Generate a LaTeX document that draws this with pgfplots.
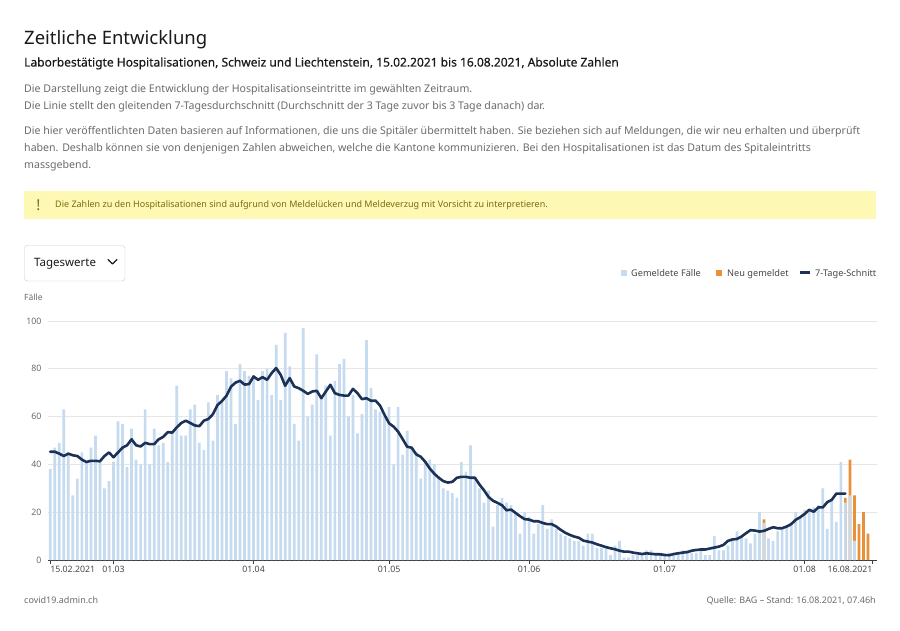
\documentclass[border=0pt]{standalone}
\usepackage{pgfplots}
\pgfplotsset{compat=1.18}
\usepackage{pgfplotstable}
\usepackage{fontspec}
\setmainfont{Noto Sans}
\definecolor{barblue}{HTML}{C6DBEF}
\definecolor{barorange}{HTML}{E8913A}
\definecolor{navy}{HTML}{1B3155}
\definecolor{txtgray}{HTML}{6B6B6B}
\definecolor{darktxt}{HTML}{1A1A1A}
\definecolor{yellowbg}{HTML}{FDF8B3}
\definecolor{yellowtxt}{HTML}{7A6A10}
\definecolor{gridgray}{HTML}{E6E6E6}

\pgfplotstableread{
d v
0 38
1 47
2 49
3 63
4 44
5 27
6 34
7 45
8 41
9 47
10 52
11 41
12 30
13 33
14 41
15 58
16 57
17 39
18 55
19 42
20 40
21 63
22 40
23 55
24 48
25 49
26 41
27 53
28 73
29 52
30 52
31 63
32 65
33 49
34 46
35 66
36 50
37 69
38 66
39 79
40 76
41 57
42 82
43 79
44 77
45 77
46 67
47 79
48 80
49 69
50 90
51 67
52 95
53 81
54 57
55 50
56 97
57 60
58 65
59 86
60 68
61 73
62 52
63 75
64 82
65 84
66 60
67 69
68 53
69 61
70 92
71 72
72 63
73 62
74 60
75 64
76 40
77 64
78 44
79 54
80 47
81 45
82 34
83 41
84 42
85 40
86 35
87 30
88 29
89 28
90 26
91 41
92 37
93 48
94 35
95 30
96 24
97 29
98 14
99 23
100 26
101 24
102 23
103 20
104 11
105 20
106 18
107 11
108 15
109 23
110 13
111 17
112 13
113 11
114 10
115 9
116 8
117 8
118 6
119 11
120 11
121 5
122 5
123 5
124 2
125 6
126 8
127 1
128 1
129 2
130 2
131 3
132 4
133 4
134 3
135 2
136 2
137 3
138 3
139 3
140 4
141 4
142 3
143 3
144 4
145 2
146 2
147 10
148 4
149 4
150 6
151 8
152 12
153 10
154 9
155 7
156 11
157 20
158 15.5
159 9
160 8
161 12
162 13
163 14
164 16
165 20
166 18
167 21
168 20
169 22
170 23
171 30
172 13
173 25
174 16
175 41
176 24
177 27
178 8
}\blue

\pgfplotstableread{
d v
158 17
176 26
177 42
178 27
179 15
180 20
181 11
}\orange

\pgfplotstableread{
d v
0 45.3
1 45.3
2 44.5
3 43.5
4 44.5
5 43.8
6 43.5
7 42
8 41
9 41.5
10 41.5
11 41.3
12 43.5
13 45
14 43
15 45
16 47
17 48
18 50.5
19 48
20 47.5
21 49
22 48.5
23 48.5
24 50.5
25 51.5
26 53.5
27 53.3
28 55.5
29 57.3
30 58.3
31 57.3
32 56.3
33 56
34 58.3
35 59
36 61
37 64.8
38 66.5
39 68.7
40 72.5
41 74.2
42 75
43 73.4
44 73.6
45 76.8
46 75.4
47 76.5
48 75.4
49 78.2
50 80.3
51 77.5
52 72.9
53 76.1
54 72.6
55 71.9
56 70.8
57 69.5
58 70.5
59 70.8
60 67.7
61 70.5
62 73.3
63 69.8
64 69.1
65 68.8
66 68.8
67 71.6
68 69.8
69 67.3
70 67.7
71 66.6
72 66.7
73 64.6
74 60.7
75 57.2
76 55.8
77 53.7
78 50.6
79 47.4
80 47
81 44.2
82 43.2
83 41.1
84 38.3
85 36.1
86 34.4
87 33
88 32.4
89 32.7
90 34.4
91 34.8
92 34.8
93 34.4
94 34.4
95 31.6
96 29.2
97 26.4
98 24.8
99 23.9
100 22.9
101 20.8
102 21.1
103 19.7
104 18.3
105 17.1
106 16.9
107 16.2
108 16.2
109 15.5
110 15
111 15
112 14
113 12.6
114 11.4
115 10.5
116 9.8
117 9.3
118 8.1
119 7.7
120 7.3
121 6.6
122 6
123 5.4
124 4.9
125 4.5
126 3.9
127 3.5
128 3.5
129 3.1
130 2.8
131 2.5
132 2.8
133 2.6
134 2.4
135 2.4
136 2.1
137 2.0
138 2.5
139 2.8
140 3.1
141 3.3
142 3.9
143 4.2
144 4.4
145 4.4
146 4.8
147 5.2
148 5.6
149 6.3
150 8.0
151 8.6
152 8.8
153 9.8
154 11.2
155 12.5
156 12.3
157 11.9
158 12.2
159 13.0
160 13.7
161 13.3
162 13.3
163 14.0
164 15.0
165 16.8
166 17.9
167 19.3
168 21.0
169 20.2
170 22.0
171 22.0
172 24.2
173 25.2
174 27.8
175 27.8
176 27.8
}\avg

\begin{document}
\begin{tikzpicture}
\begin{scope}[x=1pt,y=-1pt]
\useasboundingbox (0,0) rectangle (900,631);
\fill[white] (0,0) rectangle (900,631);

% Header
\node[anchor=base west, inner sep=0, text=darktxt, font=\fontsize{18.5}{22}\selectfont] at (24,45) {Zeitliche Entwicklung};
\node[anchor=base west, inner sep=0, text=darktxt, font=\fontsize{12}{14}\selectfont\addfontfeature{FakeBold=0.4}] at (24,66.5) {Laborbestätigte Hospitalisationen, Schweiz und Liechtenstein, 15.02.2021 bis 16.08.2021, Absolute Zahlen};
\begin{scope}[every node/.style={anchor=base west, inner sep=0, text=txtgray, font=\fontsize{10.6}{12}\selectfont}]
\node at (24,92.5) {Die Darstellung zeigt die Entwicklung der Hospitalisationseintritte im gewählten Zeitraum.};
\node at (24,109.5) {Die Linie stellt den gleitenden 7-Tagesdurchschnitt (Durchschnitt der 3 Tage zuvor bis 3 Tage danach) dar.};
\node at (24,134.5) {Die hier veröffentlichten Daten basieren auf Informationen, die uns die Spitäler übermittelt haben. Sie beziehen sich auf Meldungen, die wir neu erhalten und überprüft};
\node at (24,151.5) {haben. Deshalb können sie von denjenigen Zahlen abweichen, welche die Kantone kommunizieren. Bei den Hospitalisationen ist das Datum des Spitaleintritts};
\node at (24,168.5) {massgebend.};
\end{scope}

% Warning box
\fill[yellowbg] (24,191) rectangle (876,219);
\node[anchor=center, inner sep=0, text=yellowtxt, font=\fontsize{15}{16}\selectfont\bfseries] at (38.5,205) {!};
\node[anchor=base west, inner sep=0, text=yellowtxt, font=\fontsize{9}{10}\selectfont] at (55,208) {Die Zahlen zu den Hospitalisationen sind aufgrund von Meldelücken und Meldeverzug mit Vorsicht zu interpretieren.};

% Dropdown
\draw[gray!40, rounded corners=3pt] (24.5,245.5) rectangle (125,281);
\node[anchor=base west, inner sep=0, text=darktxt, font=\fontsize{11.5}{13}\selectfont] at (34,267) {Tageswerte};
\draw[darktxt, line width=1.4pt, line cap=round, line join=round] (108,259.5) -- (112.5,264) -- (117,259.5);

% Legend
\fill[barblue] (621,270) rectangle (627,276);
\node[anchor=base west, inner sep=0, text=darktxt!80, font=\fontsize{9.2}{10}\selectfont] at (631,276.5) {Gemeldete Fälle};
\fill[barorange] (716,270) rectangle (722,276);
\node[anchor=base west, inner sep=0, text=darktxt!80, font=\fontsize{9.2}{10}\selectfont] at (727,276.5) {Neu gemeldet};
\fill[navy] (800,271.5) rectangle (810,274.5);
\node[anchor=base west, inner sep=0, text=darktxt!80, font=\fontsize{9.2}{10}\selectfont] at (815,276.5) {7-Tage-Schnitt};

\node[anchor=base west, inner sep=0, text=txtgray, font=\fontsize{8.5}{10}\selectfont] at (24,301) {Fälle};

% Footer
\node[anchor=base west, inner sep=0, text=txtgray, font=\fontsize{9}{10}\selectfont] at (24,603) {covid19.admin.ch};
\node[anchor=base east, inner sep=0, text=txtgray, font=\fontsize{9}{10}\selectfont] at (876,603) {Quelle: BAG – Stand: 16.08.2021, 07.46h};
\end{scope}

\begin{axis}[
  at={(48pt,-560pt)}, anchor=south west,
  scale only axis, width=829pt, height=239pt,
  xmin=-0.5, xmax=183, ymin=0, ymax=100,
  separate axis lines,
  axis x line*=bottom, axis y line*=left,
  y axis line style={draw=none},
  x axis line style={draw=darktxt!85, line width=0.9pt, -},
  ymajorgrids, grid style={gridgray, line width=0.8pt},
  ytick={0,20,...,100},
  ytick style={draw=none},
  xtick={0,14,45,75,106,136,167,182},
  xticklabels={\rlap{15.02.2021},01.03,01.04,01.05,01.06,01.07,01.08,\llap{16.08.2021}},
  xtick style={draw=darktxt!85, line width=0.8pt},
  tick align=outside, major tick length=4pt,
  /pgf/number format/assume math mode=true,
  yticklabel style={font=\fontsize{8.8}{10}\selectfont, text=txtgray, xshift=1pt},
  xticklabel style={font=\fontsize{8.8}{10}\selectfont, text=darktxt!80, yshift=1pt},
  clip=false,
]
\addplot[ybar, bar width=0.6, bar shift=0pt, fill=barorange, draw=none] table[x=d,y=v] {\orange};
\addplot[ybar, bar width=0.6, bar shift=0pt, fill=barblue, draw=none] table[x=d,y=v] {\blue};
\addplot[navy, line width=2.6pt, line join=round, line cap=round, mark=none] table[x=d,y=v] {\avg};
\end{axis}
\end{tikzpicture}
\end{document}
